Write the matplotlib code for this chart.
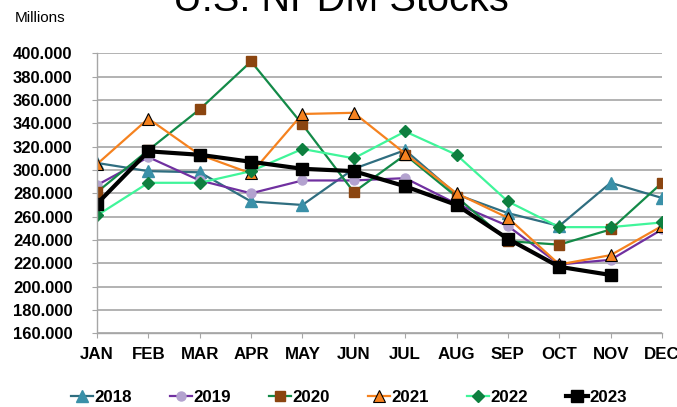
import matplotlib
matplotlib.use('Agg')
import matplotlib.pyplot as plt
from matplotlib.ticker import FuncFormatter

months = ['JAN','FEB','MAR','APR','MAY','JUN','JUL','AUG','SEP','OCT','NOV','DEC']

# stocks, millions of barrels
y2018 = [306, 299, 298, 273, 270, 301, 317, 279, 263, 252, 289, 276]
y2019 = [287, 311, 291, 280, 291, 291, 293, 271, 252, 219, 223, 249]
y2020 = [281, 317, 352, 393, 339, 281, 313, 277, 239, 236, 249, 289]
y2021 = [305, 344, 313, 297, 348, 349, 314, 280, 259, 219, 227, 252]
y2022 = [261, 289, 289, 299, 318, 310, 333, 313, 273, 251, 251, 255]
y2023 = [271, 316, 313, 307, 301, 299, 286, 270, 241, 217, 210]

plt.rcParams['font.family'] = ['Liberation Sans', 'DejaVu Sans']

fig = plt.figure(figsize=(6.77, 4.07), dpi=100)
ax = fig.add_axes([97/677, 1-333.3/407, 565/677, 280/407])

x = list(range(12))
ax.plot(x, y2018, color='#2F6E80', lw=1.6, marker='^', ms=8.5, mfc='#3A90A8', mec='#3A90A8', label='2018')
ax.plot(x, y2019, color='#7030A0', lw=1.6, marker='o', ms=6.5, mfc='#B3A2CF', mec='#B3A2CF', label='2019')
ax.plot(x, y2020, color='#138A48', lw=1.6, marker='s', ms=6.5, mfc='#8B4510', mec='#8B4510', label='2020')
ax.plot(x, y2021, color='#F5821F', lw=1.6, marker='^', ms=8.5, mfc='#F5821F', mec='black', mew=0.8, label='2021')
ax.plot(x, y2022, color='#40F59A', lw=1.6, marker='D', ms=6, mfc='#0E7F3F', mec='#0E7F3F', label='2022')
ax.plot(x[:len(y2023)], y2023, color='black', lw=3, marker='s', ms=9, mfc='black', mec='black', label='2023')

ax.set_xlim(0, 11)
ax.set_ylim(160, 400)
ax.set_yticks(range(160, 401, 20))
ax.yaxis.set_major_formatter(FuncFormatter(lambda v, p: '%d.000' % v))
ax.set_xticks(x)
ax.set_xticklabels(months)

ax.grid(axis='y', color='#A6A6A6', lw=1.2)
ax.set_axisbelow(True)
for s in ['top', 'right']:
    ax.spines[s].set_visible(False)
for s in ['left', 'bottom']:
    ax.spines[s].set_color('#A6A6A6')
    ax.spines[s].set_linewidth(1.0)

ax.tick_params(axis='y', length=3.6, color='#A6A6A6', pad=14, labelsize=12)
ax.tick_params(axis='x', length=3.6, color='#A6A6A6', pad=6, labelsize=12.2)
for t in ax.get_xticklabels() + ax.get_yticklabels():
    t.set_fontweight('bold')

fig.text(0.504, 1-11/407, 'U.S. NPDM Stocks', ha='center', va='baseline', fontsize=28.6)
fig.text(40/677, 1-18/407, 'Millions', ha='center', va='center', fontsize=11)

leg = fig.legend(loc='center', bbox_to_anchor=(0.516, 1-397/407), ncol=6, frameon=False,
                 handlelength=1.25, handletextpad=0.12, columnspacing=2.26,
                 prop={'weight': 'bold', 'size': 12.2})

fig.savefig('out.png', dpi=100)
